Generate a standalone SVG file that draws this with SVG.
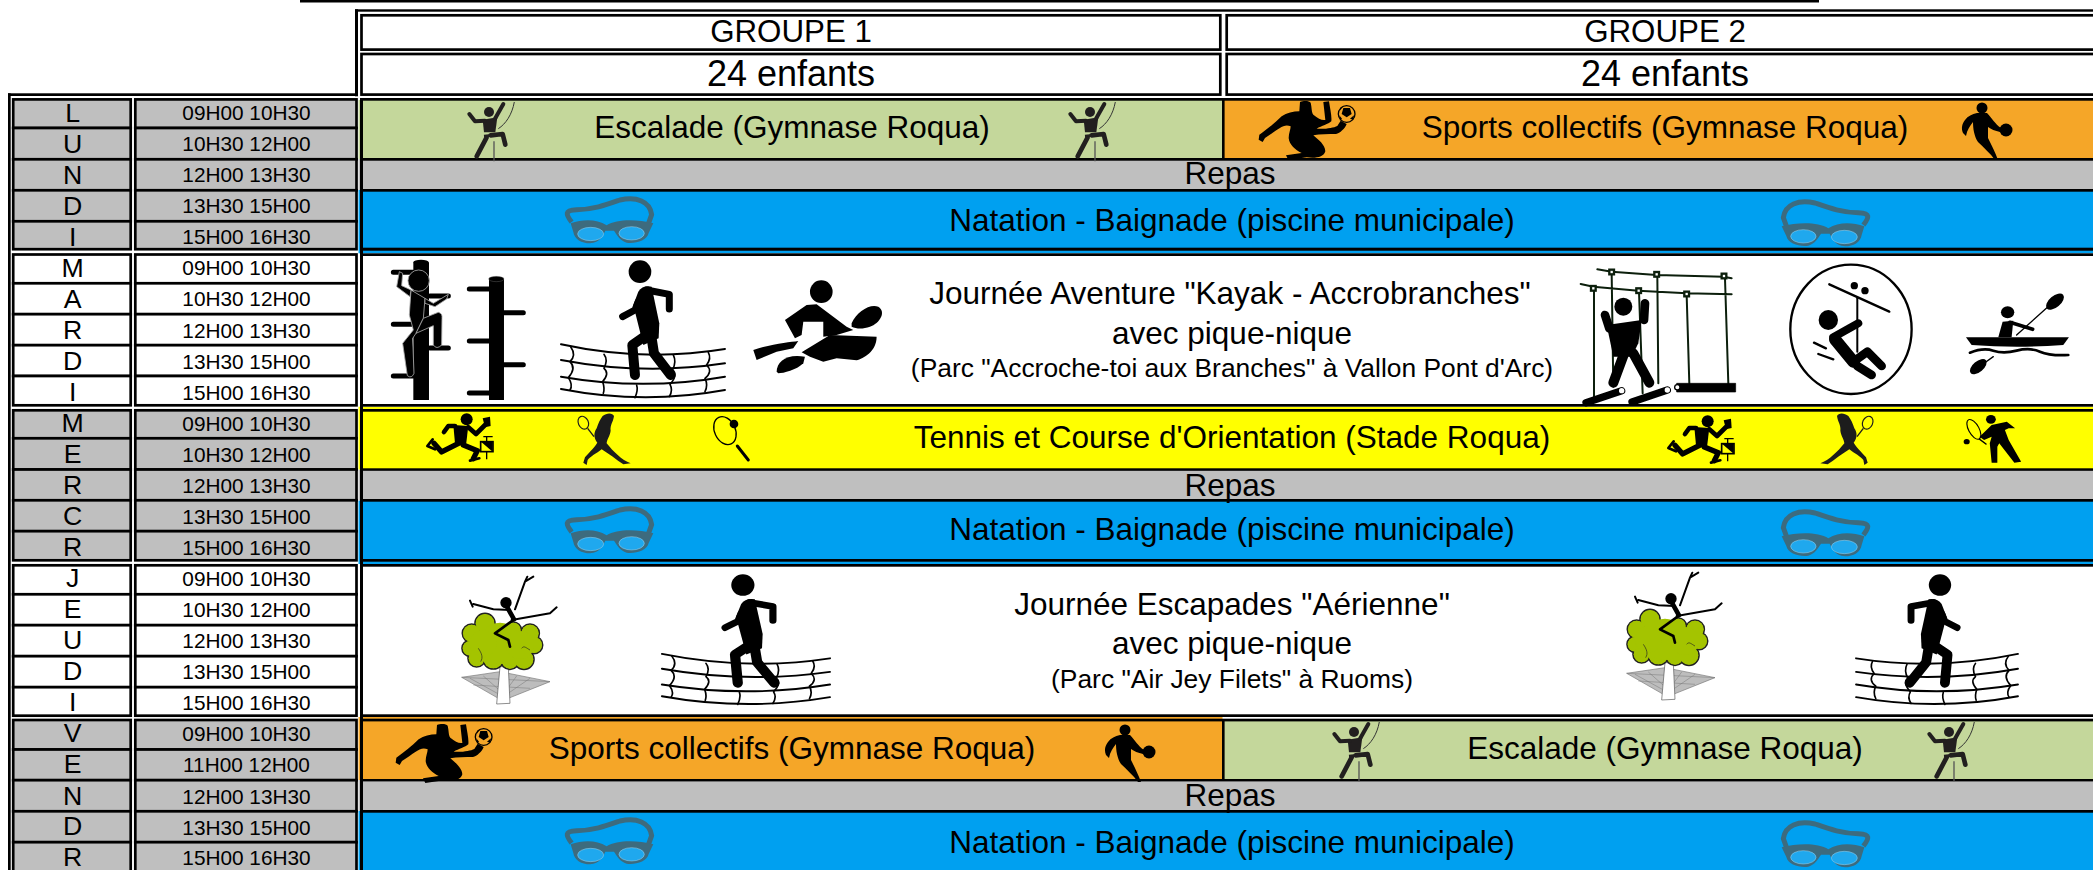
<svg xmlns="http://www.w3.org/2000/svg" width="2093" height="870" viewBox="0 0 2093 870">
<style>
text{font-family:"Liberation Sans",Arial,sans-serif;text-anchor:middle;fill:#000}
.d{font-size:26.7px}.h{font-size:20.8px}.a{font-size:31.5px}.g{font-size:31.3px}.e{font-size:36px}.s{font-size:26.4px}
.cg{fill:#BFBFBF;stroke:#000;stroke-width:2.7}
.cw{fill:#fff;stroke:#000;stroke-width:2.7}
.k{fill:#000}
.l{fill:none;stroke:#000;stroke-linecap:round;stroke-linejoin:round}
.lf{fill:#A4C400;stroke:#222;stroke-width:5}
.lg{fill:#A4C400}
</style>
<defs>
<g id="climber" transform="translate(460 98) scale(.3333)">
<circle cx="87" cy="42" r="15" fill="#221f1f"/>
<path d="M68 65L112 58L106 103L72 103Z" fill="#221f1f"/>
<path class="l" style="stroke:#221f1f" stroke-width="12" d="M75 68L45 70L28 48M105 62L130 18"/>
<path class="l" style="stroke:#221f1f" stroke-width="14" d="M80 118L50 175M92 112L128 108L136 140"/>
<path d="M72 114L108 110" fill="none" stroke="#221f1f" stroke-width="7"/>
<path d="M163 12C156 50 137 78 115 92" fill="none" stroke="#333" stroke-width="3"/>
<path d="M102 130V190" fill="none" stroke="#555" stroke-width="4"/>
</g>
<g id="soccer" transform="translate(1250 98) scale(.3333)">
<path d="M150 12C160 8 178 8 182 14C186 30 184 42 190 50C205 62 215 68 226 66L220 12L237 10C240 30 246 55 244 70C235 78 215 84 200 92C225 94 250 90 262 84L272 68L290 78C285 92 270 105 258 108C235 108 210 108 190 112C205 125 225 140 226 160C222 178 195 182 170 178L115 186L108 172L155 165C135 155 118 140 116 120C116 105 122 95 122 85C100 75 85 95 45 120L38 132L26 125L28 110C50 95 75 75 95 55C110 45 130 40 148 40Z"/>
<circle cx="290" cy="48" r="25" fill="#F5A628" stroke="#000" stroke-width="4"/>
<path d="M280 30L300 30L305 48L290 58L275 48ZM268 52L276 62L270 68ZM300 62L312 52L310 65ZM272 28L280 24L270 38ZM298 24L310 32L302 27Z"/>
</g>
<g id="basket">
<circle cx="1982" cy="108" r="5.5"/>
<path d="M1977 113L1987 113C1992 118 1995 124 2001 128L2000 132C1995 131 1991 129 1988 127L1988 138C1992 146 1995 152 1998 160L1995 160C1990 153 1984 148 1978 142C1974 136 1973 128 1973 122C1970 126 1967 130 1966 136L1963 133C1961 128 1962 124 1965 120C1968 116 1972 114 1977 113Z"/>
<circle cx="2006" cy="130" r="6.5"/>
</g>
<g id="gog" transform="translate(460 98) scale(.3333)">
<path d="M335 372C318 350 312 336 350 335C400 335 440 320 480 306C530 295 570 310 575 350L565 378" fill="none" stroke="#3D6B7E" stroke-width="15" stroke-linejoin="round"/>
<path d="M332 376C370 363 410 363 440 382C470 363 530 363 580 376L566 405C562 428 525 438 500 434C480 428 470 410 462 398L436 398C430 412 420 434 390 436C365 436 343 424 340 402Z" fill="#3D6B7E"/>
<ellipse cx="392" cy="408" rx="39" ry="20" fill="#1FA8EE" stroke="#9FD4EE" stroke-width="1.5"/>
<ellipse cx="515" cy="406" rx="38" ry="20" fill="#1FA8EE" stroke="#9FD4EE" stroke-width="1.5"/>
</g>
<g id="net">
<path class="l" stroke-width="6" d="M543 268Q790 322 1035 282M543 315Q790 362 1035 325M543 365Q790 408 1035 365M543 402Q790 450 1035 405"/>
<path class="l" stroke-width="5" d="M572 275Q590 300 570 320Q590 340 565 368Q580 390 570 405M672 298Q685 315 672 340Q690 355 668 380Q675 400 670 415M880 300Q890 320 878 345Q895 360 870 388Q880 405 868 425M985 292Q995 310 980 330Q1000 350 975 370Q985 390 975 410M770 390Q775 405 765 428"/>
<circle cx="780" cy="50" r="34"/>
<path d="M775 110Q788 90 815 95L838 205L836 250L790 270L760 150Z"/>
<path class="l" stroke-width="21" d="M800 105L868 118L868 162M775 140L765 165L728 185"/>
<path class="l" stroke-width="30" d="M800 240L757 270L765 360M815 250L822 295L872 360"/>
</g>
<g id="tree" transform="translate(450 570) scale(.3333)">
<path d="M35 322L150 305L300 335L175 385L145 385Z" fill="#bdbdbd" stroke="#777" stroke-width="2"/>
<path d="M60 325L160 380M100 318L170 380M240 325L160 380M200 318L155 380M150 308L160 380M35 322L300 335M70 345L240 355" fill="none" stroke="#777" stroke-width="1.5"/>
<path d="M150 290L175 290L180 400L140 402Z" fill="#fff" stroke="#555" stroke-width="2"/>
<g class="lf"><circle cx="105" cy="160" r="30"/><circle cx="65" cy="190" r="28"/><circle cx="60" cy="235" r="24"/><circle cx="80" cy="265" r="26"/><circle cx="130" cy="265" r="32"/><circle cx="180" cy="270" r="28"/><circle cx="222" cy="268" r="30"/><circle cx="252" cy="225" r="26"/><circle cx="240" cy="190" r="28"/><circle cx="190" cy="180" r="24"/></g>
<g class="lg"><circle cx="105" cy="160" r="28"/><circle cx="65" cy="190" r="26"/><circle cx="60" cy="235" r="22"/><circle cx="80" cy="265" r="24"/><circle cx="130" cy="265" r="30"/><circle cx="180" cy="270" r="26"/><circle cx="222" cy="268" r="28"/><circle cx="252" cy="225" r="24"/><circle cx="240" cy="190" r="26"/><circle cx="190" cy="180" r="22"/><circle cx="150" cy="220" r="62"/><circle cx="100" cy="220" r="40"/><circle cx="210" cy="225" r="42"/></g>
<path d="M85 235C95 250 100 262 92 275M215 235C222 225 230 235 240 240" fill="none" stroke="#222" stroke-width="2"/>
<circle cx="168" cy="98" r="17"/>
<path class="l" stroke-width="6" d="M180 120L130 118L70 102M60 92L68 110M195 118L225 35L250 20M225 35L232 20M185 150L300 130L320 112"/>
<path class="l" stroke-width="14" d="M172 112L192 148"/>
<path class="l" stroke-width="8" d="M190 150L135 190L175 210L180 230"/>
</g>
<g id="runner" transform="translate(420 410) scale(.3333)">
<circle cx="140" cy="28" r="18"/>
<path d="M100 45L145 48L138 105L105 100Z"/>
<path class="l" stroke-width="14" d="M105 48L85 48L72 66M145 52L168 72L195 45"/>
<path d="M188 25L210 20L212 48L195 52Z"/>
<path class="l" stroke-width="16" d="M120 98L65 126L42 100M130 105L172 122L160 146"/>
<path class="l" stroke-width="8" d="M38 88L22 108L45 118M150 152L178 145"/>
<path d="M190 80H218M200 80V95M200 125V148" fill="none" stroke="#000" stroke-width="4"/>
<rect x="182" y="95" width="37" height="30" fill="none" stroke="#000" stroke-width="5"/>
<path d="M183 95L218 95L218 125Z"/>
</g>
<g id="woman" transform="translate(420 410) scale(.3333)">
<ellipse cx="490" cy="38" rx="15" ry="20" transform="rotate(-25 490 38)" fill="none" stroke="#1c1c1c" stroke-width="3.5"/>
<path d="M503 55L522 80" fill="none" stroke="#1c1c1c" stroke-width="4"/>
<path d="M548 18C560 8 578 8 582 18C580 35 570 45 572 62C570 78 560 90 560 100C580 125 605 150 632 160L610 163C590 150 565 130 545 118C530 130 510 140 503 150L500 165L490 158L495 142C510 125 525 110 532 98C522 85 520 70 530 55C535 40 540 28 548 18Z" fill="#1c1c1c"/>
</g>
</defs>
<rect width="2093" height="870" fill="#fff"/>
<g id="headers">
<rect class="k" x="300" y="0" width="1519" height="2.5"/>
<rect class="k" x="355" y="9.3" width="1738" height="2.4"/>
<rect class="k" x="355" y="9.3" width="3" height="87"/>
<rect class="k" x="8" y="93.3" width="350" height="2.7"/>
<rect class="k" x="8" y="93.3" width="2.7" height="777"/>
<rect class="cw" x="361.5" y="15.3" width="858.8" height="34.3"/>
<rect class="cw" x="1226.7" y="15.3" width="880" height="34.3"/>
<rect class="cw" x="361.5" y="54" width="858.8" height="40.6"/>
<rect class="cw" x="1226.7" y="54" width="880" height="40.6"/>
<text class="g" x="791" y="41.5">GROUPE 1</text>
<text class="g" x="1665" y="41.5">GROUPE 2</text>
<text class="e" x="791" y="86">24 enfants</text>
<text class="e" x="1665" y="86">24 enfants</text>
</g>
<g id="days">
<g id="lundi">
<rect class="cg" x="13.2" y="99.4" width="117.5" height="28.6"/><rect class="cg" x="13.2" y="128" width="117.5" height="31.3"/><rect class="cg" x="13.2" y="159.3" width="117.5" height="31"/><rect class="cg" x="13.2" y="190.3" width="117.5" height="31"/><rect class="cg" x="13.2" y="221.3" width="117.5" height="27.9"/>
<rect class="cg" x="135.3" y="99.4" width="221.2" height="28.6"/><rect class="cg" x="135.3" y="128" width="221.2" height="31.3"/><rect class="cg" x="135.3" y="159.3" width="221.2" height="31"/><rect class="cg" x="135.3" y="190.3" width="221.2" height="31"/><rect class="cg" x="135.3" y="221.3" width="221.2" height="27.9"/>
<text class="d" x="72.7" y="121.7">L</text><text class="d" x="72.7" y="152.7">U</text><text class="d" x="72.7" y="183.7">N</text><text class="d" x="72.7" y="214.5">D</text><text class="d" x="72.7" y="245.5">I</text>
<text class="h" x="246.5" y="120">09H00 10H30</text><text class="h" x="246.5" y="151">10H30 12H00</text><text class="h" x="246.5" y="182">12H00 13H30</text><text class="h" x="246.5" y="213">13H30 15H00</text><text class="h" x="246.5" y="244">15H00 16H30</text>
</g>
<g id="mardi">
<rect class="cw" x="13.2" y="254.5" width="117.5" height="28.8"/><rect class="cw" x="13.2" y="283.3" width="117.5" height="30.9"/><rect class="cw" x="13.2" y="314.2" width="117.5" height="31"/><rect class="cw" x="13.2" y="345.2" width="117.5" height="30.8"/><rect class="cw" x="13.2" y="376" width="117.5" height="29.3"/>
<rect class="cw" x="135.3" y="254.5" width="221.2" height="28.8"/><rect class="cw" x="135.3" y="283.3" width="221.2" height="30.9"/><rect class="cw" x="135.3" y="314.2" width="221.2" height="31"/><rect class="cw" x="135.3" y="345.2" width="221.2" height="30.8"/><rect class="cw" x="135.3" y="376" width="221.2" height="29.3"/>
<text class="d" x="72.7" y="276.7">M</text><text class="d" x="72.7" y="307.7">A</text><text class="d" x="72.7" y="339">R</text><text class="d" x="72.7" y="370">D</text><text class="d" x="72.7" y="401">I</text>
<text class="h" x="246.5" y="275">09H00 10H30</text><text class="h" x="246.5" y="306">10H30 12H00</text><text class="h" x="246.5" y="337.5">12H00 13H30</text><text class="h" x="246.5" y="369">13H30 15H00</text><text class="h" x="246.5" y="400">15H00 16H30</text>
</g>
<g id="mercredi">
<rect class="cg" x="13.2" y="410.3" width="117.5" height="28"/><rect class="cg" x="13.2" y="438.3" width="117.5" height="31.2"/><rect class="cg" x="13.2" y="469.5" width="117.5" height="30.8"/><rect class="cg" x="13.2" y="500.3" width="117.5" height="30.9"/><rect class="cg" x="13.2" y="531.2" width="117.5" height="29.1"/>
<rect class="cg" x="135.3" y="410.3" width="221.2" height="28"/><rect class="cg" x="135.3" y="438.3" width="221.2" height="31.2"/><rect class="cg" x="135.3" y="469.5" width="221.2" height="30.8"/><rect class="cg" x="135.3" y="500.3" width="221.2" height="30.9"/><rect class="cg" x="135.3" y="531.2" width="221.2" height="29.1"/>
<text class="d" x="72.7" y="432">M</text><text class="d" x="72.7" y="463">E</text><text class="d" x="72.7" y="494">R</text><text class="d" x="72.7" y="525">C</text><text class="d" x="72.7" y="556">R</text>
<text class="h" x="246.5" y="431">09H00 10H30</text><text class="h" x="246.5" y="462">10H30 12H00</text><text class="h" x="246.5" y="493">12H00 13H30</text><text class="h" x="246.5" y="524">13H30 15H00</text><text class="h" x="246.5" y="555">15H00 16H30</text>
</g>
<g id="jeudi">
<rect class="cw" x="13.2" y="565.3" width="117.5" height="29"/><rect class="cw" x="13.2" y="594.3" width="117.5" height="30.9"/><rect class="cw" x="13.2" y="625.2" width="117.5" height="31"/><rect class="cw" x="13.2" y="656.2" width="117.5" height="31"/><rect class="cw" x="13.2" y="687.2" width="117.5" height="28.5"/>
<rect class="cw" x="135.3" y="565.3" width="221.2" height="29"/><rect class="cw" x="135.3" y="594.3" width="221.2" height="30.9"/><rect class="cw" x="135.3" y="625.2" width="221.2" height="31"/><rect class="cw" x="135.3" y="656.2" width="221.2" height="31"/><rect class="cw" x="135.3" y="687.2" width="221.2" height="28.5"/>
<text class="d" x="72.7" y="587">J</text><text class="d" x="72.7" y="618">E</text><text class="d" x="72.7" y="649">U</text><text class="d" x="72.7" y="680">D</text><text class="d" x="72.7" y="711">I</text>
<text class="h" x="246.5" y="586">09H00 10H30</text><text class="h" x="246.5" y="617">10H30 12H00</text><text class="h" x="246.5" y="648">12H00 13H30</text><text class="h" x="246.5" y="679">13H30 15H00</text><text class="h" x="246.5" y="710">15H00 16H30</text>
</g>
<g id="vendredi">
<rect class="cg" x="13.2" y="720" width="117.5" height="29.5"/><rect class="cg" x="13.2" y="749.5" width="117.5" height="30.7"/><rect class="cg" x="13.2" y="780.2" width="117.5" height="31.1"/><rect class="cg" x="13.2" y="811.3" width="117.5" height="30.9"/><rect class="cg" x="13.2" y="842.2" width="117.5" height="40"/>
<rect class="cg" x="135.3" y="720" width="221.2" height="29.5"/><rect class="cg" x="135.3" y="749.5" width="221.2" height="30.7"/><rect class="cg" x="135.3" y="780.2" width="221.2" height="31.1"/><rect class="cg" x="135.3" y="811.3" width="221.2" height="30.9"/><rect class="cg" x="135.3" y="842.2" width="221.2" height="40"/>
<text class="d" x="72.7" y="742">V</text><text class="d" x="72.7" y="773">E</text><text class="d" x="72.7" y="804.5">N</text><text class="d" x="72.7" y="835">D</text><text class="d" x="72.7" y="866">R</text>
<text class="h" x="246.5" y="741">09H00 10H30</text><text class="h" x="246.5" y="771.5">11H00 12H00</text><text class="h" x="246.5" y="803.5">12H00 13H30</text><text class="h" x="246.5" y="834.5">13H30 15H00</text><text class="h" x="246.5" y="865">15H00 16H30</text>
</g>
</g>
<g id="activities">
<rect x="358.5" y="100" width="864" height="59" fill="#C4D79B"/>
<rect x="1222" y="100" width="871" height="59" fill="#F5A628"/>
<rect x="358.5" y="159" width="1735" height="31" fill="#BFBFBF"/>
<rect x="358.5" y="190" width="1735" height="63.3" fill="#00A0F0"/>
<rect x="358.5" y="406.7" width="1735" height="63" fill="#FFFF00"/>
<rect x="358.5" y="469.7" width="1735" height="31" fill="#BFBFBF"/>
<rect x="358.5" y="500.7" width="1735" height="63.3" fill="#00A0F0"/>
<rect x="358.5" y="717" width="864" height="63" fill="#F5A628"/>
<rect x="1222" y="721" width="871" height="59" fill="#C4D79B"/>
<rect x="358.5" y="780" width="1735" height="31" fill="#BFBFBF"/>
<rect x="358.5" y="811" width="1735" height="59" fill="#00A0F0"/>
<rect class="k" x="360" y="98" width="1733" height="2.7"/>
<rect class="k" x="360" y="158" width="1733" height="2.7"/>
<rect class="k" x="360" y="189" width="1733" height="2.7"/>
<rect class="k" x="360" y="247.7" width="1733" height="3"/>
<rect class="k" x="360" y="253.3" width="1733" height="2.7"/>
<rect class="k" x="360" y="404" width="1733" height="2.7"/>
<rect class="k" x="360" y="409" width="1733" height="2.7"/>
<rect class="k" x="360" y="468.3" width="1733" height="2.5"/>
<rect class="k" x="360" y="499" width="1733" height="2.7"/>
<rect class="k" x="360" y="559" width="1733" height="2.7"/>
<rect class="k" x="360" y="564" width="1733" height="2.7"/>
<rect class="k" x="360" y="714.3" width="1733" height="2.7"/>
<rect class="k" x="360" y="718.7" width="1733" height="2.7"/>
<rect class="k" x="360" y="779" width="1733" height="2.4"/>
<rect class="k" x="360" y="810" width="1733" height="2.7"/>
<rect class="k" x="360" y="98" width="3" height="772"/>
<rect class="k" x="1222" y="100" width="2.6" height="59"/>
<rect class="k" x="1222" y="721" width="2.6" height="59"/>
<text class="a" x="792" y="138">Escalade (Gymnase Roqua)</text>
<text class="a" x="1665" y="138">Sports collectifs (Gymnase Roqua)</text>
<text class="a" x="1230" y="184">Repas</text>
<text class="a" x="1232" y="231">Natation - Baignade (piscine municipale)</text>
<text class="a" x="1230" y="304">Journée Aventure "Kayak - Accrobranches"</text>
<text class="a" x="1232" y="344">avec pique-nique</text>
<text class="s" x="1232" y="377">(Parc "Accroche-toi aux Branches" à Vallon Pont d'Arc)</text>
<text class="a" x="1232" y="448">Tennis et Course d'Orientation (Stade Roqua)</text>
<text class="a" x="1230" y="495.5">Repas</text>
<text class="a" x="1232" y="540">Natation - Baignade (piscine municipale)</text>
<text class="a" x="1232" y="615">Journée Escapades "Aérienne"</text>
<text class="a" x="1232" y="654">avec pique-nique</text>
<text class="s" x="1232" y="688">(Parc "Air Jey Filets" à Ruoms)</text>
<text class="a" x="792" y="759">Sports collectifs (Gymnase Roqua)</text>
<text class="a" x="1665" y="759">Escalade (Gymnase Roqua)</text>
<text class="a" x="1230" y="806">Repas</text>
<text class="a" x="1232" y="853">Natation - Baignade (piscine municipale)</text>
</g>
<g id="icons">
<use href="#climber"/>
<use href="#climber" transform="translate(601 0)"/>
<use href="#climber" transform="translate(865 620)"/>
<use href="#climber" transform="translate(1460 620)"/>
<use href="#soccer"/>
<use href="#soccer" transform="translate(-863 623)"/>
<use href="#basket"/>
<use href="#basket" transform="translate(-857 622)"/>
<use href="#gog"/>
<use href="#gog" transform="translate(2435 3) scale(-1 1)"/>
<use href="#gog" transform="translate(0 310)"/>
<use href="#gog" transform="translate(2435 313) scale(-1 1)"/>
<use href="#gog" transform="translate(0 621)"/>
<use href="#gog" transform="translate(2435 624) scale(-1 1)"/>
<g id="pole-climber" transform="translate(380 255) scale(.3333)">
<path d="M100 22H147V435H100Z"/><ellipse cx="123" cy="22" rx="23" ry="8"/>
<path d="M327 72H372V435H327Z"/><ellipse cx="349" cy="72" rx="23" ry="8" fill="#000" stroke="#888" stroke-width="1"/>
<path class="l" stroke-width="15" d="M40 52H100M40 208H100M40 363H100M150 123H205M150 279H205M268 102H327M268 258H327M268 414H327M372 173H430M372 329H430"/>
<g stroke="#aaa" stroke-width="2.5">
<circle cx="116" cy="77" r="32"/>
<path d="M93 105L135 130L130 190L108 235L98 250L102 355Q95 372 82 362L68 265L100 225L88 180Z"/>
<path d="M135 130L160 145L205 118L200 132L165 155L135 145Z"/>
<path d="M130 190L175 172Q188 175 186 190L185 270Q170 285 160 270L160 212L108 235Z"/>
<path d="M93 105L65 92L68 55L58 50L50 95L90 125Z"/>
</g>
</g>
<use href="#net" transform="translate(380 255) scale(.3333)"/>
<use href="#net" transform="translate(476.5 569.3) scale(.3415 .3157)" id="net2"/>
<use href="#net" transform="translate(2196.6 569.3) scale(-.329 .3157)" id="net3"/>
<g id="kayak-water" transform="translate(380 255) scale(.3333)">
<circle cx="1324" cy="110" r="34"/>
<path d="M1215 195L1280 150L1310 148L1400 215L1420 225L1370 240L1330 245L1330 200L1270 200L1265 240L1245 250Z"/>
<path d="M1415 205C1430 170 1470 145 1495 155C1520 170 1500 205 1470 215C1450 222 1430 222 1415 215Z"/>
<path d="M1120 285C1180 265 1230 262 1255 258L1240 280L1190 290L1130 315Z"/>
<path d="M1265 292L1350 240L1490 245C1490 290 1450 310 1430 316L1370 310L1330 320L1290 305Z"/>
<path d="M1190 350C1190 320 1220 295 1275 305L1270 325C1250 345 1210 355 1195 355Z"/>
</g>
<g id="ropes" transform="translate(1570 260) scale(.3333)">
<path class="l" style="stroke:#0c1f0c" stroke-width="6" d="M82 28L125 35L260 45L460 50L485 55M32 72L70 80L205 92L350 100L485 103M72 84L72 410M125 40L130 380M262 48L265 370M465 55L475 370M207 95L218 400M350 105L358 370"/>
<g fill="#fff" stroke="#0c1f0c" stroke-width="7"><rect x="118" y="29" width="14" height="14"/><rect x="253" y="36" width="14" height="14"/><rect x="455" y="41" width="14" height="14"/><rect x="63" y="78" width="14" height="14"/><rect x="199" y="85" width="14" height="14"/><rect x="343" y="95" width="14" height="14"/></g>
<circle cx="160" cy="140" r="27"/>
<path d="M110 195L215 180L205 250L185 290L130 290Z"/>
<path class="l" stroke-width="26" d="M105 165L118 205M225 130L222 180"/>
<path class="l" stroke-width="30" d="M170 260L130 368M190 280L238 368"/>
<path class="l" stroke-width="22" d="M48 428L155 392M186 426L292 390"/>
<path d="M320 370H497V396H320Z" stroke="#000" stroke-linejoin="round" stroke-width="2"/>
<circle cx="155" cy="392" r="8" fill="#fff"/><circle cx="292" cy="390" r="8" fill="#fff"/><circle cx="322" cy="382" r="8" fill="#fff" stroke="#000" stroke-width="4"/>
</g>
<g id="zipline" transform="translate(1570 260) scale(.3333)">
<ellipse cx="843" cy="208" rx="182" ry="194" fill="none" stroke="#000" stroke-width="7"/>
<path class="l" stroke-width="7" d="M778 73L958 155M732 248L768 265M745 282L790 298"/>
<path class="l" stroke-width="6" d="M862 115V275"/>
<circle cx="853" cy="77" r="11"/><circle cx="885" cy="92" r="11"/><ellipse cx="775" cy="180" rx="29" ry="30"/>
<path class="l" stroke-width="24" d="M790 232L865 190"/>
<path class="l" stroke-width="36" d="M795 238L850 305"/>
<path class="l" stroke-width="26" d="M850 305L892 275L935 318M862 318L905 345"/>
</g>
<g id="kayak" transform="translate(1570 260) scale(.3333)">
<path d="M1188 232H1497L1480 255Q1340 265 1205 255Z"/>
<path class="l" stroke-width="8" d="M1200 278Q1240 262 1270 272T1340 272T1410 275T1495 285"/>
<ellipse cx="1313" cy="157" rx="20" ry="18"/>
<path d="M1285 232L1298 185L1330 182L1325 232Z"/>
<path class="l" stroke-width="11" d="M1320 187L1388 208"/>
<path class="l" stroke-width="4" d="M1340 225L1440 135M1270 290L1235 315"/>
<ellipse cx="1455" cy="125" rx="32" ry="17" transform="rotate(-40 1455 125)"/>
<ellipse cx="1225" cy="320" rx="30" ry="16" transform="rotate(-40 1225 320)"/>
</g>
<use href="#runner"/>
<use href="#runner" transform="translate(1241 2)"/>
<use href="#woman"/>
<use href="#woman" transform="translate(2451 0) scale(-1 1)"/>
<g id="racket" transform="translate(420 410) scale(.3333)">
<ellipse cx="915" cy="62" rx="31" ry="44" transform="rotate(-25 915 62)" fill="none" stroke="#000" stroke-width="4"/>
<circle cx="942" cy="42" r="13"/>
<path class="l" stroke-width="9" d="M952 108L985 150"/>
</g>
<g id="tennis-man" transform="translate(1500 240) scale(.3782 .3333)">
<ellipse cx="1298" cy="538" rx="13" ry="13"/>
<ellipse cx="1253" cy="568" rx="14" ry="32" transform="rotate(-25 1253 568)" fill="none" stroke="#000" stroke-width="3"/>
<path class="l" stroke-width="4" d="M1268 598L1285 612"/>
<circle cx="1234" cy="605" r="8"/>
<path d="M1300 555L1340 545L1362 565L1345 565L1335 570L1345 600L1378 665L1360 668L1320 610L1315 620L1315 668L1300 668L1295 610L1300 590L1280 600L1268 590Z"/>
</g>
<use href="#tree"/>
<use href="#tree" transform="translate(1165 -4)"/>
</g>
</svg>
